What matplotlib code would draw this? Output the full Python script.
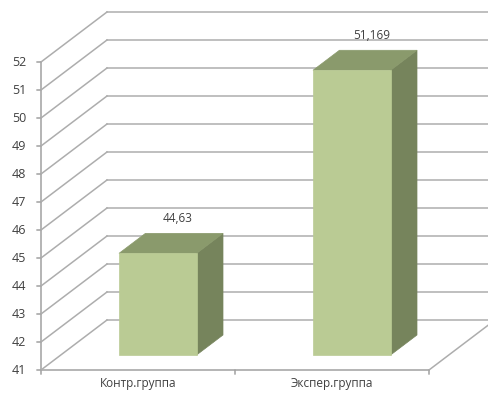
import matplotlib
matplotlib.use("Agg")
import matplotlib.pyplot as plt
import matplotlib.transforms as mtransforms
from matplotlib.patches import Polygon

categories = ["Контр.группа", "Экспер.группа"]
values = [44.63, 51.169]
value_labels = ["44,63", "51,169"]
y_ticks = list(range(41, 53))

W, H, DPI = 488, 396, 100
fig = plt.figure(figsize=(W / DPI, H / DPI), dpi=DPI)
fig.patch.set_facecolor("white")

# front plane of the 3-D box
ax = fig.add_axes([41 / W, (H - 370) / H, 388 / W, 308 / H])
ax.set_xlim(0, len(categories))
ax.set_ylim(y_ticks[0], y_ticks[-1])
ax.axis("off")

# depth direction of the box, in pixels (right, up)
DEPTH_X, DEPTH_Y = 66, 50


def depth_tr(d):
    return ax.transData + mtransforms.ScaledTranslation(
        DEPTH_X * d / DPI, DEPTH_Y * d / DPI, fig.dpi_scale_trans)


def fig_line(p0, p1, col):
    fig.add_artist(plt.Line2D([p0[0] / W, p1[0] / W], [p0[1] / H, p1[1] / H],
                              color=col, lw=1.1))


grid_col = "#ADADAD"
axis_col = "#A0A0A0"
xmax = len(categories)

# side-wall diagonals and back-wall gridlines
for v in y_ticks:
    fig_line(ax.transData.transform((0, v)), depth_tr(1).transform((0, v)),
             grid_col)
    ax.plot([0, xmax], [v, v], color=grid_col, lw=1.1, clip_on=False,
            transform=depth_tr(1))

# floor right edge
fig_line(ax.transData.transform((xmax, y_ticks[0])),
         depth_tr(1).transform((xmax, y_ticks[0])), grid_col)

# front axes lines and ticks
ax.plot([0, 0], [y_ticks[0], y_ticks[-1]], color=axis_col, lw=1.1,
        clip_on=False)
ax.plot([0, xmax], [y_ticks[0], y_ticks[0]], color=axis_col, lw=1.1,
        clip_on=False)
font = dict(family=["Open Sans", "DejaVu Sans"], color="#404040")
for v in y_ticks:
    ax.annotate("", xy=(0, v), xytext=(-3, 0), textcoords="offset points",
                arrowprops=dict(arrowstyle="-", color=axis_col, lw=1.1,
                                shrinkA=0, shrinkB=0))
    ax.annotate(str(v), xy=(0, v), xytext=(-10.5, 0),
                textcoords="offset points",
                ha="right", va="center", fontsize=9, **font)
for i in range(xmax + 1):
    ax.annotate("", xy=(i, y_ticks[0]), xytext=(0, -3),
                textcoords="offset points",
                arrowprops=dict(arrowstyle="-", color=axis_col, lw=1.1,
                                shrinkA=0, shrinkB=0))
for i, c in enumerate(categories):
    ax.annotate(c, xy=(i + 0.5, y_ticks[0]), xytext=(0, -5),
                textcoords="offset points", ha="center", va="top",
                fontsize=8.5, **font)

# 3-D bars
front_col = "#BACB94"
top_col = "#8A9A6C"
side_col = "#76845C"
bar_w = 0.4
d0, d1 = 0.3, 0.7
base = y_ticks[0]


def pix(tr, x, y):
    p = tr.transform((x, y))
    return (p[0] / W, p[1] / H)


for i, v in enumerate(values):
    xl, xr = i + 0.5 - bar_w / 2, i + 0.5 + bar_w / 2
    f0, f1 = depth_tr(d0), depth_tr(d1)
    front = [pix(f0, xl, base), pix(f0, xr, base), pix(f0, xr, v), pix(f0, xl, v)]
    top = [pix(f0, xl, v), pix(f0, xr, v), pix(f1, xr, v), pix(f1, xl, v)]
    side = [pix(f0, xr, base), pix(f1, xr, base), pix(f1, xr, v), pix(f0, xr, v)]
    for poly, col in ((side, side_col), (top, top_col), (front, front_col)):
        fig.add_artist(Polygon(poly, closed=True, facecolor=col, edgecolor=col,
                               lw=0.5, transform=fig.transFigure))
    ax.annotate(value_labels[i], xy=(i + 0.5, v), xycoords=depth_tr(0.5),
                xytext=(5, 13.5), textcoords="offset points",
                ha="center", va="bottom", fontsize=8.5, **font)

fig.savefig("out.png", dpi=DPI, facecolor="white")
